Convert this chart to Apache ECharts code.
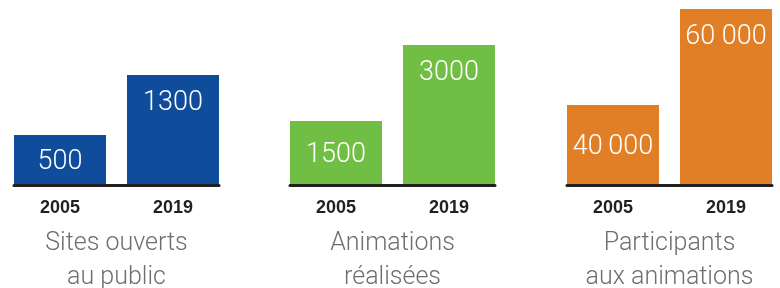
<!DOCTYPE html>
<html>
<head>
<meta charset="utf-8">
<script src="https://cdn.jsdelivr.net/npm/echarts@6/dist/echarts.min.js"></script>
<style>
  html, body { margin: 0; padding: 0; background: #fff; }
  #chart { width: 780px; height: 288px; }
</style>
</head>
<body>
<div id="chart"></div>
<script>
// data
const years = ['2005', '2019'];
const titles = ['Sites ouverts\nau public', 'Animations\nréalisées', 'Participants\naux animations'];
const sites = [500, 1300];
const animations = [1500, 3000];
const participants = [40000, 60000];
const sitesLabels = ['500', '1300'];
const animationsLabels = ['1500', '3000'];
const participantsLabels = ['40\u2009000', '60 000'];

// layout / style
const groups = [
  { values: sites, labels: sitesLabels, color: '#0f4c9b', left: 14, min: 223.7, max: 3721 },
  { values: animations, labels: animationsLabels, color: '#70bf44', left: 290, min: 833, max: 4166 },
  { values: participants, labels: participantsLabels, color: '#e07f26', left: 567, min: 28474, max: 60000 }
];
const light = "Roboto, 'DejaVu Sans Condensed', sans-serif";
const barW = 92;
const step = 113; // px between bar centres

const chart = echarts.init(document.getElementById('chart'), null, { renderer: 'canvas' });

const grid = [], xAxis = [], yAxis = [], series = [];
groups.forEach((g, i) => {
  grid.push({ left: g.left, width: 205, top: 9, height: 176.5, outerBoundsMode: 'none', containLabel: false });
  xAxis.push({
    gridIndex: i,
    type: 'value',
    min: -barW / 2 / step,
    max: 1 + barW / 2 / step,
    z: 5,
    axisLine: { show: true, lineStyle: { color: '#231f20', width: 3 } },
    axisTick: { show: false },
    splitLine: { show: false },
    axisLabel: {
      customValues: [0, 1],
      formatter: v => years[Math.round(v)],
      color: '#231f20',
      fontWeight: 'bold',
      fontFamily: 'Liberation Sans, Arial, sans-serif',
      fontSize: 18,
      margin: 14
    },
    name: titles[i],
    nameLocation: 'middle',
    nameGap: 41,
    nameTextStyle: {
      color: '#6d6e70',
      fontFamily: light,
      fontWeight: 300,
      fontSize: 25,
      lineHeight: 34
    }
  });
  yAxis.push({
    gridIndex: i,
    type: 'log',
    min: g.min,
    max: g.max,
    show: false,
    splitLine: { show: false }
  });
  series.push({
    type: 'bar',
    xAxisIndex: i,
    yAxisIndex: i,
    barWidth: barW,
    clip: true,
    itemStyle: { color: g.color },
    data: g.values.map((v, j) => ({
      value: [j, v],
      label: {
        show: true,
        position: j === 0 ? 'inside' : ['50%', 28],
        offset: j === 0 ? [0, 2] : [0, 0],
        align: 'center',
        verticalAlign: 'middle',
        formatter: () => g.labels[j],
        color: '#fff',
        fontFamily: light,
        fontWeight: 300,
        fontSize: 27
      }
    }))
  });
});

chart.setOption({
  animation: false,
  grid, xAxis, yAxis, series
});
</script>
</body>
</html>
